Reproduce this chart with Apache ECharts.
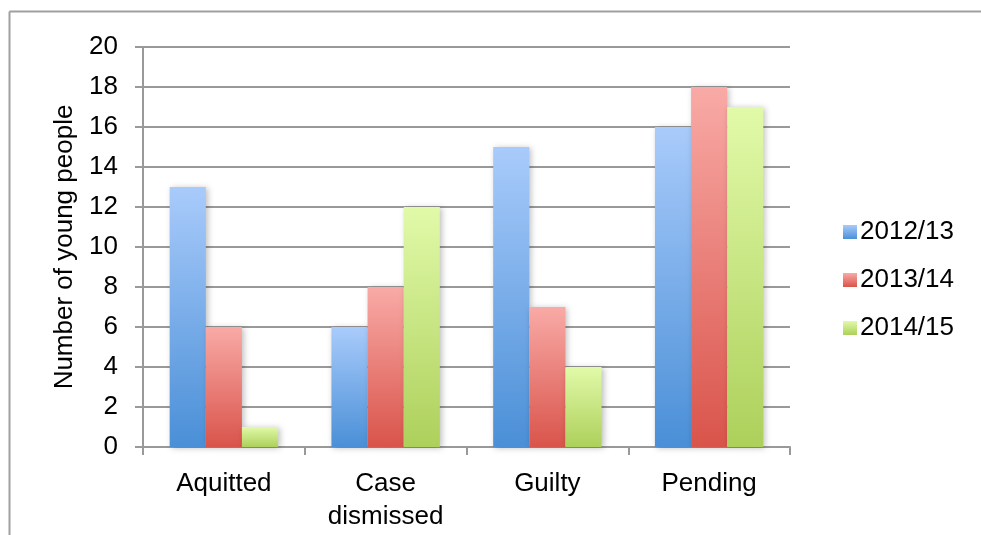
<!DOCTYPE html>
<html>
<head>
<meta charset="utf-8">
<script src="https://cdn.jsdelivr.net/npm/echarts@6/dist/echarts.min.js"></script>
<style>
  html, body { margin: 0; padding: 0; background: #fff; }
  #chart { width: 981px; height: 535px; }
</style>
</head>
<body>
<div id="chart"></div>
<script>
// Outcomes per year
const categories = ['Aquitted', 'Case\ndismissed', 'Guilty', 'Pending'];
const seriesNames = ['2012/13', '2013/14', '2014/15'];
const values2012 = [13, 6, 15, 16];
const values2013 = [6, 8, 7, 18];
const values2014 = [1, 12, 4, 17];
const yTicks = { min: 0, max: 20, interval: 2 };

const gradients = [
  ['#a9cbfb', '#4a8fd7'],
  ['#f9aaa6', '#d9544b'],
  ['#e1faa9', '#add05b']
];

function grad(c) {
  return new echarts.graphic.LinearGradient(0, 0, 0, 1, [
    { offset: 0, color: c[0] },
    { offset: 1, color: c[1] }
  ]);
}

const dataSets = [values2012, values2013, values2014];
const font = '"Liberation Sans", Arial, sans-serif';

const chart = echarts.init(document.getElementById('chart'));
chart.setOption({
  animation: false,
  textStyle: { fontFamily: font },
  grid: { left: 143, top: 47, width: 647, height: 400, containLabel: false },
  graphic: [
    { type: 'line', shape: { x1: 9.5, y1: 11.5, x2: 981, y2: 11.5 }, style: { stroke: '#a0a0a0', lineWidth: 2 } },
    { type: 'line', shape: { x1: 9.5, y1: 11.5, x2: 9.5, y2: 535 }, style: { stroke: '#a0a0a0', lineWidth: 2 } }
  ],
  legend: {
    orient: 'vertical',
    left: 838,
    top: 214,
    icon: 'rect',
    itemWidth: 14,
    itemHeight: 14,
    itemGap: 22,
    textStyle: { fontSize: 26, color: '#000', fontFamily: font, padding: [0, 0, 0, -2] },
    data: seriesNames
  },
  xAxis: {
    type: 'category',
    data: categories,
    axisLine: { lineStyle: { color: '#999', width: 2 } },
    axisTick: { show: true, length: 8, lineStyle: { color: '#999', width: 2 } },
    axisLabel: { fontSize: 26, color: '#000', margin: 20, lineHeight: 33, fontFamily: font }
  },
  yAxis: {
    type: 'value',
    min: yTicks.min,
    max: yTicks.max,
    interval: yTicks.interval,
    name: 'Number of young people',
    nameLocation: 'middle',
    nameGap: 63,
    nameTextStyle: { fontSize: 26, color: '#000', fontFamily: font },
    axisLine: { show: true, lineStyle: { color: '#999', width: 2 } },
    axisTick: { show: true, length: 8, lineStyle: { color: '#999', width: 2 } },
    axisLabel: { fontSize: 26, color: '#000', margin: 25, fontFamily: font },
    splitLine: { lineStyle: { color: '#999', width: 2 } }
  },
  series: dataSets.map((d, i) => ({
    name: seriesNames[i],
    type: 'bar',
    data: d,
    barGap: '0%',
    barCategoryGap: '33%',
    itemStyle: {
      color: grad(gradients[i]),
      shadowColor: 'rgba(0,0,0,0.25)',
      shadowBlur: 6,
      shadowOffsetX: 2,
      shadowOffsetY: 1
    }
  }))
});
</script>
</body>
</html>
